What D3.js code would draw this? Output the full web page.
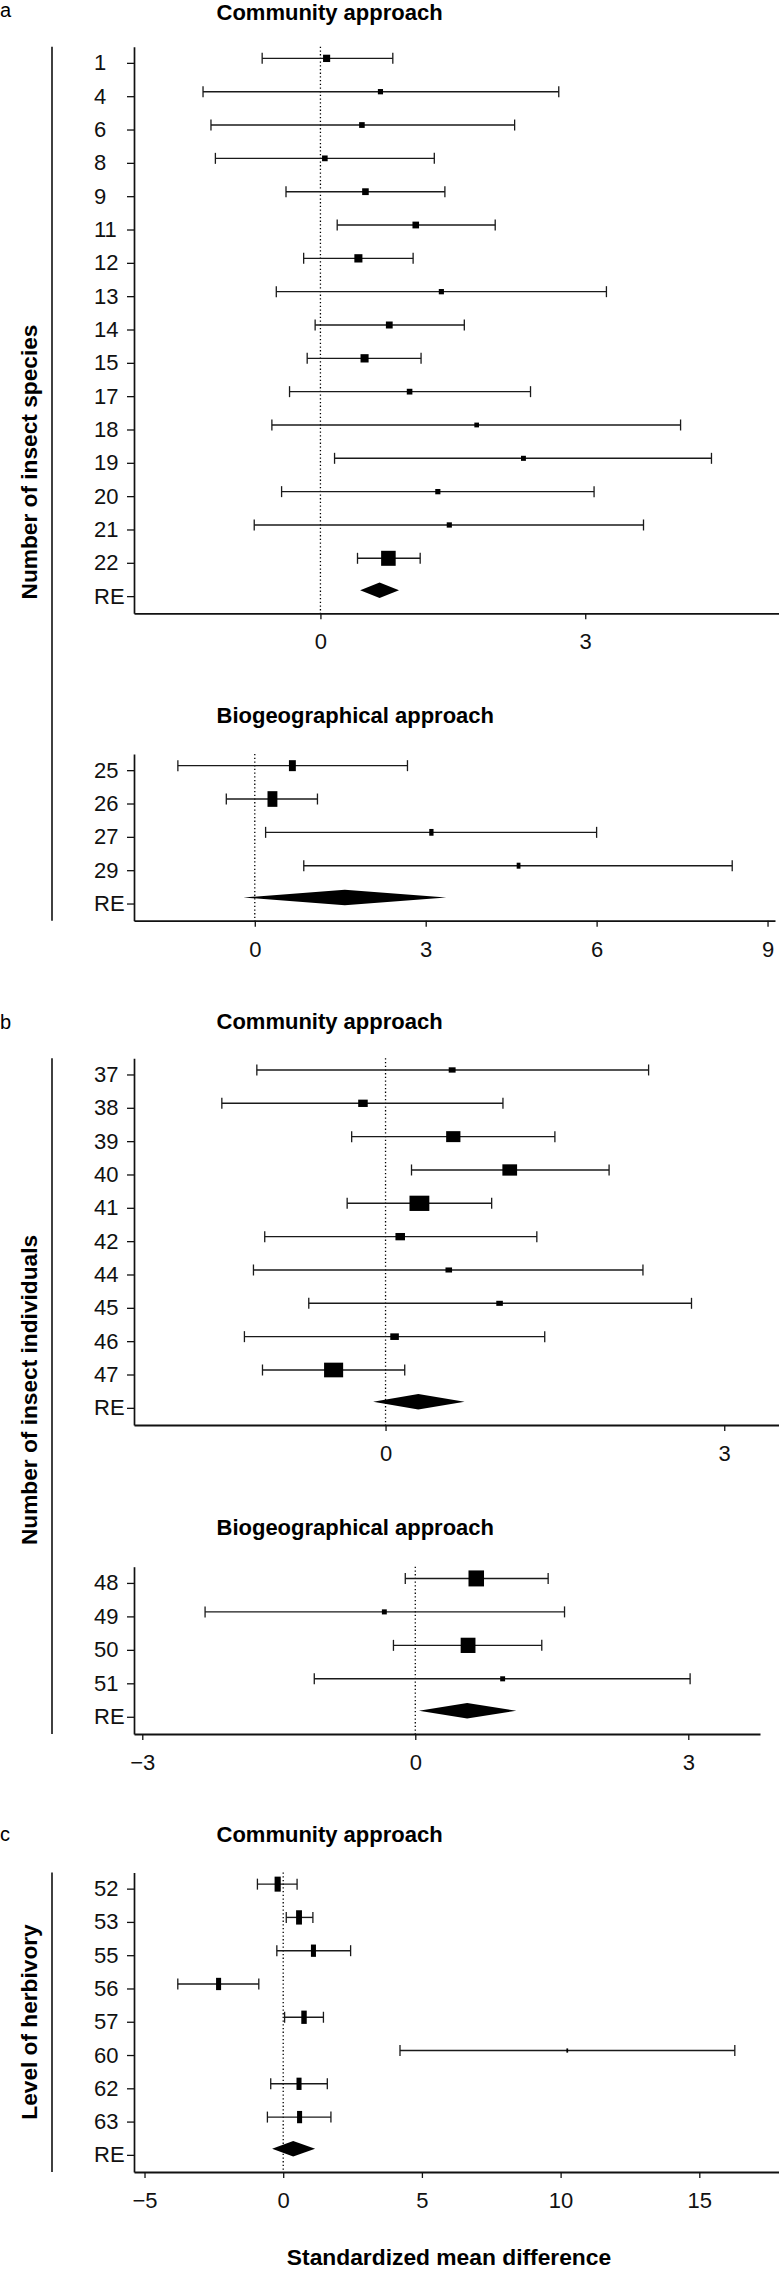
<!DOCTYPE html>
<html>
<head>
<meta charset="utf-8">
<script src="https://cdn.jsdelivr.net/npm/d3@7"></script>
<style>
  body { margin: 0; background: #fff; }
  text { font-family: "Liberation Sans", Arial, sans-serif; }
</style>
</head>
<body>
<script>
// ---------- DATA ----------
// Panel a, community approach (number of insect species)
const a1Labels = ["1","4","6","8","9","11","12","13","14","15","17","18","19","20","21","22"];
const a1Est = [0.07,0.68,0.47,0.05,0.51,1.08,0.43,1.37,0.78,0.50,1.01,1.77,2.30,1.33,1.46,0.77];
const a1Lo  = [-0.66,-1.33,-1.24,-1.19,-0.39,0.19,-0.19,-0.50,-0.06,-0.15,-0.35,-0.55,0.16,-0.44,-0.75,0.42];
const a1Hi  = [0.82,2.70,2.20,1.29,1.41,1.98,1.05,3.24,1.63,1.14,2.38,4.08,4.43,3.10,3.66,1.13];
const a1Wt  = [21,11,13,13,18,18,27,11,19,27,13,9,10,11,11,88];
const a1RE  = [0.67,0.45,0.89];   // estimate, lower, upper
const a1Ticks = [0,3];

// Panel a, biogeographical approach
const a2Labels = ["25","26","27","29"];
const a2Est = [0.66,0.31,3.10,4.63];
const a2Lo  = [-1.35,-0.50,0.19,0.86];
const a2Hi  = [2.68,1.10,6.00,8.38];
const a2Wt  = [47,96,18,14];
const a2RE  = [1.58,-0.20,3.36];
const a2Ticks = [0,3,6,9];

// Panel b, community approach (number of insect individuals)
const b1Labels = ["37","38","39","40","41","42","44","45","46","47"];
const b1Est = [0.59,-0.20,0.60,1.10,0.30,0.13,0.56,1.01,0.08,-0.46];
const b1Lo  = [-1.14,-1.45,-0.30,0.23,-0.34,-1.07,-1.17,-0.68,-1.25,-1.09];
const b1Hi  = [2.33,1.04,1.50,1.98,0.94,1.34,2.28,2.71,1.41,0.17];
const b1Wt  = [11,21,47,50,91,21,10,10,17,84];
const b1RE  = [0.29,-0.11,0.70];
const b1Ticks = [0,3];

// Panel b, biogeographical approach
const b2Labels = ["48","49","50","51"];
const b2Est = [0.67,-0.34,0.58,0.96];
const b2Lo  = [-0.11,-2.31,-0.24,-1.11];
const b2Hi  = [1.46,1.64,1.39,3.02];
const b2Wt  = [100,10,91,10];
const b2RE  = [0.57,0.04,1.11];
const b2Ticks = [-3,0,3];

// Panel c, community approach (level of herbivory)
const cLabels = ["52","53","55","56","57","60","62","63"];
const cEst = [-0.20,0.57,1.09,-2.33,0.75,10.24,0.57,0.59];
const cLo  = [-0.93,0.11,-0.23,-3.80,0.05,4.21,-0.45,-0.57];
const cHi  = [0.50,1.07,2.43,-0.88,1.45,16.28,1.59,1.72];
const cWt  = [88,80,59,59,69,7,59,59];
const cRE  = [0.36,-0.40,1.15];
const cTicks = [-5,0,5,10,15];

// ---------- LAYOUT ----------
const W = 779, H = 2271;
const svg = d3.select("body").append("svg").attr("width", W).attr("height", H);
const AXIS_X = 134;
const wScale = d3.scaleSqrt().domain([0,100]).range([0,16]);

const panels = [
  {labels:a1Labels, est:a1Est, lo:a1Lo, hi:a1Hi, wt:a1Wt, re:a1RE, ticks:a1Ticks,
   top:46.7, bottom:613.3, domain:[-2.112,5.195], right:779, aspect:0.97,
   title:"Community approach", titleY:19.5},
  {labels:a2Labels, est:a2Est, lo:a2Lo, hi:a2Hi, wt:a2Wt, re:a2RE, ticks:a2Ticks,
   top:754, bottom:920.7, domain:[-2.12,9.131], right:775, aspect:0.63,
   title:"Biogeographical approach", titleY:723.3},
  {labels:b1Labels, est:b1Est, lo:b1Lo, hi:b1Hi, wt:b1Wt, re:b1RE, ticks:b1Ticks,
   top:1058.3, bottom:1425, domain:[-2.228,3.485], right:779, aspect:1.3,
   title:"Community approach", titleY:1029.3},
  {labels:b2Labels, est:b2Est, lo:b2Lo, hi:b2Hi, wt:b2Wt, re:b2RE, ticks:b2Ticks,
   top:1566.7, bottom:1734, domain:[-3.091,3.788], right:760, aspect:0.97,
   title:"Biogeographical approach", titleY:1535},
  {labels:cLabels, est:cEst, lo:cLo, hi:cHi, wt:cWt, re:cRE, ticks:cTicks,
   top:1872.5, bottom:2172, domain:[-5.379,17.873], right:779, aspect:0.41,
   title:"Community approach", titleY:1841.7}
];

function drawPanel(p) {
  const rows = [...p.labels, "RE"];
  const y = d3.scaleBand().domain(rows).range([p.top, p.bottom]);
  const x = d3.scaleLinear().domain(p.domain).range([AXIS_X, p.right]);
  const g = svg.append("g");
  const off = y.bandwidth()/2;

  // title
  g.append("text").attr("x", 216.5).attr("y", p.titleY)
    .attr("font-size", 22).attr("font-weight", "bold").attr("fill", "#000")
    .text(p.title);

  // reference line at 0
  g.append("line").attr("x1", x(0)).attr("x2", x(0))
    .attr("y1", p.top).attr("y2", p.bottom)
    .attr("stroke", "#000").attr("stroke-width", 1.3)
    .attr("stroke-dasharray", "1.3,2.4");

  // error bars
  const items = p.labels.map((l,i) => ({l, est:p.est[i], lo:p.lo[i], hi:p.hi[i], wt:p.wt[i]}));
  const rowG = g.selectAll("g.row").data(items).join("g").attr("class","row");
  const yc = d => y(d.l) + off - 5;
  rowG.append("line").attr("x1", d => x(d.lo)).attr("x2", d => x(d.hi))
    .attr("y1", yc).attr("y2", yc).attr("stroke", "#1a1a1a").attr("stroke-width", 1.4);
  rowG.append("line").attr("x1", d => x(d.lo)).attr("x2", d => x(d.lo))
    .attr("y1", d => yc(d) - 5.5).attr("y2", d => yc(d) + 5.5)
    .attr("stroke", "#1a1a1a").attr("stroke-width", 1.3);
  rowG.append("line").attr("x1", d => x(d.hi)).attr("x2", d => x(d.hi))
    .attr("y1", d => yc(d) - 5.5).attr("y2", d => yc(d) + 5.5)
    .attr("stroke", "#1a1a1a").attr("stroke-width", 1.3);
  rowG.append("rect")
    .attr("x", d => x(d.est) - wScale(d.wt)*p.aspect/2)
    .attr("y", d => yc(d) - wScale(d.wt)/2)
    .attr("width", d => Math.max(1.2, wScale(d.wt)*p.aspect))
    .attr("height", d => wScale(d.wt))
    .attr("fill", "#000");

  // summary diamond
  const [re, reLo, reHi] = p.re;
  const dy = y("RE") + off - 6.5;
  const hh = 7.75;
  g.append("path")
    .attr("d", `M${x(reLo)},${dy}L${x(re)},${dy-hh}L${x(reHi)},${dy}L${x(re)},${dy+hh}Z`)
    .attr("fill", "#000");

  // y axis
  const ya = g.append("g").attr("transform", `translate(${AXIS_X},0)`)
    .call(d3.axisLeft(y).tickSize(7).tickSizeOuter(0));
  ya.select(".domain").attr("stroke", "#111").attr("stroke-width", 1.7);
  ya.selectAll(".tick line").attr("stroke", "#111").attr("stroke-width", 1.3);
  ya.selectAll(".tick text").attr("text-anchor", "start").attr("x", 94 - AXIS_X)
    .attr("font-size", 22).attr("fill", "#111")
    .attr("font-family", "'Liberation Sans', Arial, sans-serif");

  // x axis
  const xa = g.append("g").attr("transform", `translate(0,${p.bottom})`)
    .call(d3.axisBottom(x).tickValues(p.ticks).tickSize(6).tickSizeOuter(0).tickFormat(d3.format("d")));
  xa.select(".domain").attr("stroke", "#111").attr("stroke-width", 1.8);
  xa.selectAll(".tick line").attr("stroke", "#111").attr("stroke-width", 1.3);
  xa.selectAll(".tick text").attr("y", 36).attr("dy", 0)
    .attr("font-size", 22).attr("fill", "#111")
    .attr("font-family", "'Liberation Sans', Arial, sans-serif");
}

panels.forEach(drawPanel);

// group brackets (left vertical lines)
const groups = [
  {y1:46.7, y2:920.7, label:"Number of insect species", cy:462, letter:"a", ly:16.7},
  {y1:1058.3, y2:1734, label:"Number of insect individuals", cy:1390, letter:"b", ly:1029.3},
  {y1:1872.5, y2:2172, label:"Level of herbivory", cy:2022, letter:"c", ly:1840.7}
];
groups.forEach(gr => {
  svg.append("line").attr("x1", 52).attr("x2", 52).attr("y1", gr.y1).attr("y2", gr.y2)
    .attr("stroke", "#111").attr("stroke-width", 1.6);
  svg.append("text").attr("transform", `translate(37,${gr.cy}) rotate(-90)`)
    .attr("text-anchor", "middle").attr("font-size", 22.7).attr("font-weight", "bold")
    .attr("fill", "#000").text(gr.label);
  svg.append("text").attr("x", 0).attr("y", gr.ly).attr("font-size", 20)
    .attr("fill", "#000").text(gr.letter);
});

// x-axis title
svg.append("text").attr("x", 449).attr("y", 2265).attr("text-anchor", "middle")
  .attr("font-size", 22.8).attr("font-weight", "bold").attr("fill", "#000")
  .text("Standardized mean difference");
</script>
</body>
</html>
